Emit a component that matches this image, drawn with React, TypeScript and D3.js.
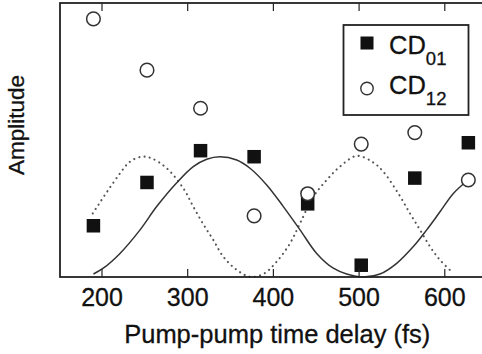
import React from "react";
import * as d3 from "d3";

// Pump-pump time delays (fs) of the measured points
const delays = [190, 252.5, 315, 377.5, 440, 502.5, 565, 627.5];
// Normalized amplitudes of the two coherence signals
const cd01 = [0.187, 0.345, 0.461, 0.439, 0.267, 0.043, 0.361, 0.49];
const cd12 = [0.942, 0.755, 0.616, 0.223, 0.304, 0.485, 0.527, 0.354];

// Fitted oscillation traced through the CD01 points (solid)
const fit01X = [190, 201.5, 221, 244.4, 263.8, 287.2, 306.5, 322.2, 337.7, 357.2, 372.7, 392.2, 411.6, 431.1, 450.5, 469.9, 485.5, 504.6, 524.4, 543.9, 563.3, 578.9, 594.4, 610, 627];
const fit01Y = [0.011, 0.032, 0.086, 0.172, 0.257, 0.344, 0.403, 0.43, 0.439, 0.427, 0.397, 0.336, 0.257, 0.172, 0.086, 0.032, 0.011, 0.0, 0.011, 0.05, 0.111, 0.172, 0.238, 0.305, 0.353];

// Fitted oscillation for CD12 (dotted)
const fit12X = [189.2, 195.7, 207.4, 221, 232.7, 246.3, 258, 275.5, 294.9, 306.5, 318.2, 329.9, 341.6, 357.2, 372.7, 388.2, 403.9, 419.4, 431.1, 446.6, 462.2, 477.7, 497.2, 516.6, 528.3, 545.8, 559.4, 571.1, 582.8, 594.4, 608.1];
const fit12Y = [0.232, 0.263, 0.318, 0.378, 0.421, 0.439, 0.433, 0.397, 0.324, 0.257, 0.193, 0.135, 0.074, 0.026, 0.001, 0.011, 0.056, 0.123, 0.196, 0.293, 0.354, 0.403, 0.442, 0.418, 0.384, 0.305, 0.232, 0.172, 0.111, 0.062, 0.019];

const xTicks = [200, 300, 400, 500, 600];
const xLabel = "Pump-pump time delay (fs)";
const yLabel = "Amplitude";
const legendNames = ["CD", "CD"];
const legendSubs = ["01", "12"];

const W = 482;
const H = 354;
const plot = { left: 60, right: 488.5, top: 3, bottom: 277 };
const FONT = "'Liberation Sans', Arial, Helvetica, sans-serif";
const INK = "#111";

export default function App() {
  const x = d3.scaleLinear().domain([151, 651]).range([plot.left, plot.right]);
  const y = d3.scaleLinear().domain([0, 1]).range([plot.bottom, plot.top]);

  const line = d3
    .line<[number, number]>()
    .x((d) => x(d[0]))
    .y((d) => y(d[1]))
    .curve(d3.curveCatmullRom.alpha(0.5));

  const solidPath = line(fit01X.map((v, i) => [v, fit01Y[i]]) as [number, number][]) || "";
  const dottedPath = line(fit12X.map((v, i) => [v, fit12Y[i]]) as [number, number][]) || "";

  const sq = 13.5;
  const r = 6.8;
  const tickLen = 8;

  return (
    <svg
      width={W}
      height={H}
      viewBox={`0 0 ${W} ${H}`}
      style={{ position: "fixed", left: 0, top: 0, background: "#fff" }}
    >
      <rect x={0} y={0} width={W} height={H} fill="#fff" />

      {/* fitted curves */}
      <path d={dottedPath} fill="none" stroke="#555" strokeWidth={2.1} strokeDasharray="0.1 5.2" strokeLinecap="round" />
      <path d={solidPath} fill="none" stroke="#333" strokeWidth={1.5} />

      {/* CD01 markers */}
      {delays.map((d, i) => (
        <rect key={`s${i}`} x={x(d) - sq / 2} y={y(cd01[i]) - sq / 2} width={sq} height={sq} fill={INK} />
      ))}
      {/* CD12 markers */}
      {delays.map((d, i) => (
        <circle key={`c${i}`} cx={x(d)} cy={y(cd12[i])} r={r} fill="#fff" stroke="#333" strokeWidth={1.5} />
      ))}

      {/* axes frame */}
      <rect
        x={plot.left}
        y={plot.top}
        width={plot.right - plot.left}
        height={plot.bottom - plot.top}
        fill="none"
        stroke="#222"
        strokeWidth={1.8}
      />
      {xTicks.map((t) => (
        <g key={t}>
          <line x1={x(t)} x2={x(t)} y1={plot.bottom} y2={plot.bottom - tickLen} stroke="#222" strokeWidth={1.2} />
          <line x1={x(t)} x2={x(t)} y1={plot.top} y2={plot.top + tickLen} stroke="#222" strokeWidth={1.2} />
          <text x={x(t)} y={306} textAnchor="middle" fontFamily={FONT} fontSize={25} fill={INK} stroke={INK} strokeWidth={0.3}>
            {t}
          </text>
        </g>
      ))}

      <text x={(plot.left + plot.right) / 2 + 3} y={343} textAnchor="middle" fontFamily={FONT} fontSize={25.5} fill={INK} stroke={INK} strokeWidth={0.3}>
        {xLabel}
      </text>
      <text
        transform={`translate(24,125) rotate(-90)`}
        textAnchor="middle"
        fontFamily={FONT}
        fontSize={22.5}
        fill={INK}
        stroke={INK}
        strokeWidth={0.3}
      >
        {yLabel}
      </text>

      {/* legend */}
      <g>
        <rect x={343.5} y={25} width={125} height={90} fill="#fff" stroke="#222" strokeWidth={1.8} />
        <rect x={367 - 6.5} y={43 - 6.5} width={13} height={13} fill={INK} />
        <circle cx={367} cy={88.5} r={6.2} fill="#fff" stroke="#333" strokeWidth={1.4} />
        {legendNames.map((n, i) => (
          <text key={i} x={389} y={53.5 + i * 40} fontFamily={FONT} fontSize={25.5} fill={INK} stroke={INK} strokeWidth={0.3}>
            {n}
            <tspan dy={11.5} fontSize={18.5}>
              {legendSubs[i]}
            </tspan>
          </text>
        ))}
      </g>
    </svg>
  );
}
